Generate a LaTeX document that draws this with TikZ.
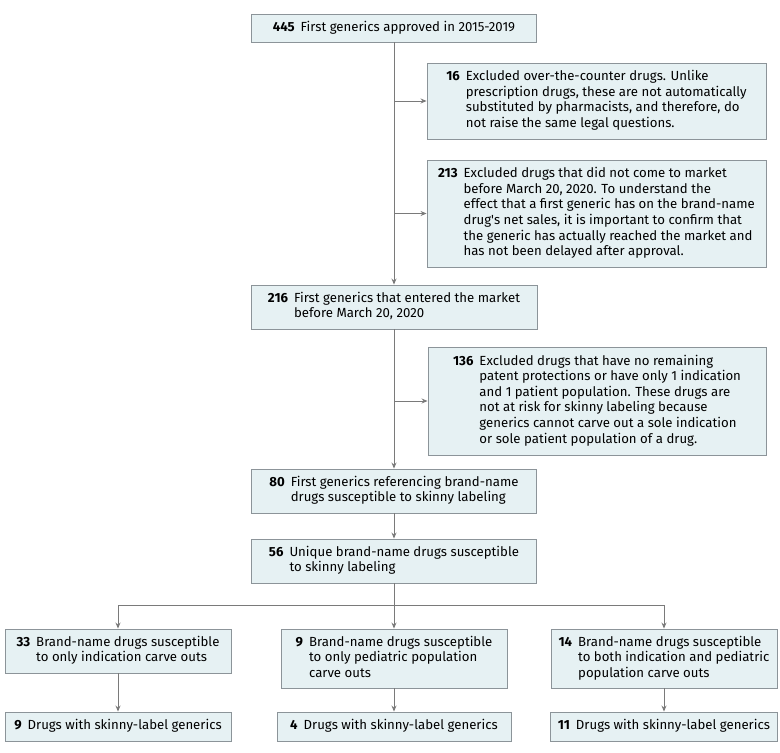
\documentclass[tikz,border=0pt]{standalone}
\usepackage{fontspec}
\setmainfont{Fira Sans}
\usetikzlibrary{arrows.meta}
\definecolor{boxfill}{HTML}{E6F1F3}
\definecolor{boxline}{HTML}{8C9499}
\definecolor{arrline}{HTML}{7A7A7A}
\newcommand{\nentry}[2]{\textbf{#1}\hspace{6pt}\begin{tabular}[t]{@{}l@{}}#2\end{tabular}}
\tikzset{
  box/.style={draw=boxline, fill=boxfill, line width=0.9pt, inner sep=0pt, align=left,
    font=\fontsize{13.2}{15.6}\selectfont},
  conn/.style={draw=arrline, line width=0.9pt},
  arr/.style={conn, -{Stealth[length=6pt,width=5pt]}}
}
\begin{document}
\begin{tikzpicture}[x=1pt,y=-1pt]
\useasboundingbox (0,0) rectangle (780,753);
\fill[white] (0,0) rectangle (780,753);
\node[box, minimum width=285pt, minimum height=28pt] (top) at (394,28)
  {\nentry{445}{First generics approved in 2015-2019}};
\node[box, minimum width=339pt, minimum height=76pt] (b16) at (596.5,101)
  {\nentry{16}{Excluded over-the-counter drugs. Unlike\\prescription drugs, these are not automatically\\substituted by pharmacists, and therefore, do\\not raise the same legal questions.}};
\node[box, minimum width=339pt, minimum height=107pt] (b213) at (596.5,213.5)
  {\nentry{213}{Excluded drugs that did not come to market\\before March 20, 2020. To understand the\\effect that a first generic has on the brand-name\\drug\textquotesingle s net sales, it is important to confirm that\\the generic has actually reached the market and\\has not been delayed after approval.}};
\node[box, minimum width=286pt, minimum height=44pt] (b216) at (394,307)
  {\nentry{216}{First generics that entered the market\\before March 20, 2020}};
\node[box, minimum width=338pt, minimum height=108pt] (b136) at (597,401)
  {\nentry{136}{Excluded drugs that have no remaining\\patent protections or have only 1 indication\\and 1 patient population. These drugs are\\not at risk for skinny labeling because\\generics cannot carve out a sole indication\\or sole patient population of a drug.}};
\node[box, minimum width=285pt, minimum height=44pt] (b80) at (394,491)
  {\nentry{80}{First generics referencing brand-name\\drugs susceptible to skinny labeling}};
\node[box, minimum width=285pt, minimum height=44pt] (b56) at (394,561)
  {\nentry{56}{Unique brand-name drugs susceptible\\to skinny labeling}};
\node[box, minimum width=226pt, minimum height=44pt] (b33) at (118,651)
  {\nentry{33}{Brand-name drugs susceptible\\to only indication carve outs}};
\node[box, minimum width=226pt, minimum height=59pt] (b9m) at (394,658.5)
  {\nentry{9}{Brand-name drugs susceptible\\to only pediatric population\\carve outs}};
\node[box, minimum width=226pt, minimum height=59pt] (b14) at (664,658.5)
  {\nentry{14}{Brand-name drugs susceptible\\to both indication and pediatric\\population carve outs}};
\node[box, minimum width=226pt, minimum height=29pt] (b9) at (118,726.5)
  {\nentry{9}{Drugs with skinny-label generics}};
\node[box, minimum width=234pt, minimum height=29pt] (b4) at (394,726.5)
  {\nentry{4}{Drugs with skinny-label generics}};
\node[box, minimum width=227pt, minimum height=29pt] (b11) at (664,726.5)
  {\nentry{11}{Drugs with skinny-label generics}};
\coordinate (br) at (394,605);
% connectors
\draw[arr] (top.south) -- (b216.north);
\draw[arr] (top.south |- b16.west) -- (b16.west);
\draw[arr] (top.south |- b213.west) -- (b213.west);
\draw[arr] (b216.south) -- (b80.north);
\draw[arr] (b216.south |- b136.west) -- (b136.west);
\draw[arr] (b80.south) -- (b56.north);
\draw[conn] (b56.south) -- (br);
\draw[arr] (br) -| (b33.north);
\draw[arr] (br) -| (b14.north);
\draw[arr] (br) -- (b9m.north);
\draw[arr] (b33.south) -- (b9.north);
\draw[arr] (b9m.south) -- (b4.north);
\draw[arr] (b14.south) -- (b11.north);
\end{tikzpicture}
\end{document}
